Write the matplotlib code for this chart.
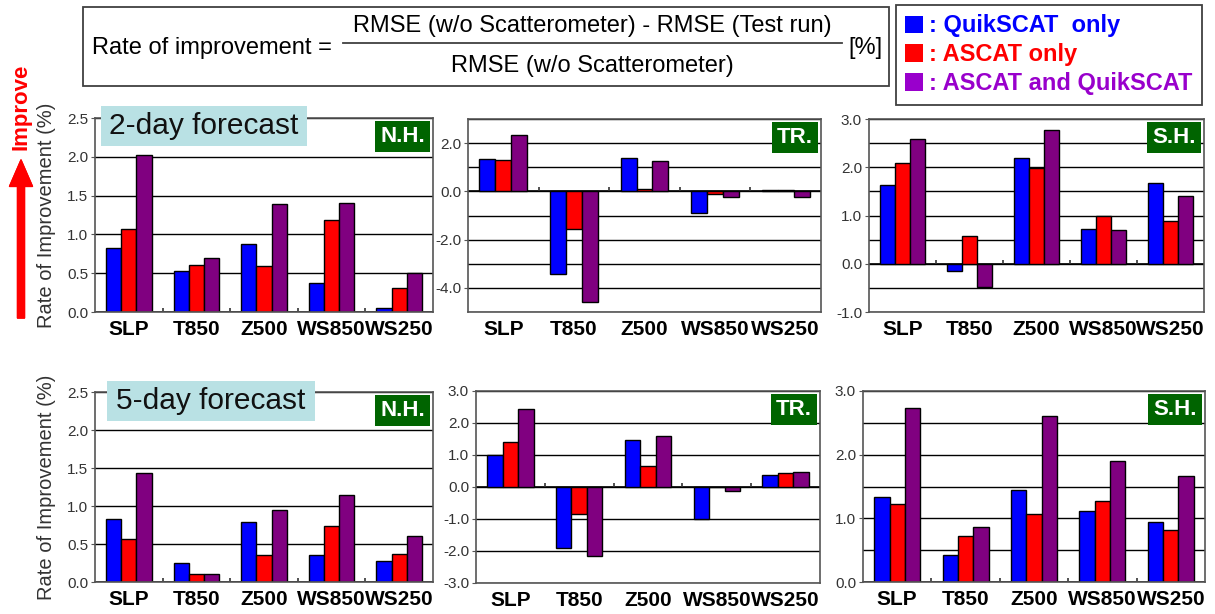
import numpy as np
import matplotlib
matplotlib.use("Agg")
import matplotlib.pyplot as plt
from matplotlib.patches import Rectangle, Patch
from matplotlib.lines import Line2D
from matplotlib.offsetbox import AnchoredText

plt.rcParams['font.family'] = ['Liberation Sans', 'DejaVu Sans']

W, H = 1215, 614

categories = ['SLP', 'T850', 'Z500', 'WS850', 'WS250']
series_names = [': QuikSCAT  only', ': ASCAT only', ': ASCAT and QuikSCAT']

# 2-day forecast
nh2_quik = [0.82, 0.53, 0.87, 0.37, 0.05]
nh2_ascat = [1.07, 0.61, 0.59, 1.18, 0.31]
nh2_both = [2.02, 0.69, 1.39, 1.41, 0.50]

tr2_quik = [1.35, -3.41, 1.40, -0.91, 0.04]
tr2_ascat = [1.30, -1.55, 0.09, -0.11, 0.04]
tr2_both = [2.33, -4.59, 1.24, -0.22, -0.22]

sh2_quik = [1.64, -0.14, 2.20, 0.73, 1.67]
sh2_ascat = [2.09, 0.58, 1.98, 0.99, 0.89]
sh2_both = [2.58, -0.49, 2.77, 0.70, 1.41]

# 5-day forecast
nh5_quik = [0.83, 0.25, 0.79, 0.35, 0.27]
nh5_ascat = [0.57, 0.11, 0.35, 0.74, 0.37]
nh5_both = [1.43, 0.10, 0.95, 1.15, 0.60]

tr5_quik = [1.00, -1.90, 1.46, -1.00, 0.38]
tr5_ascat = [1.41, -0.83, 0.66, 0.00, 0.43]
tr5_both = [2.43, -2.15, 1.60, -0.12, 0.46]

sh5_quik = [1.33, 0.43, 1.44, 1.11, 0.95]
sh5_ascat = [1.23, 0.73, 1.07, 1.28, 0.81]
sh5_both = [2.73, 0.87, 2.60, 1.90, 1.66]

bar_colors = ['#0000ff', '#ff0000', '#800080']
legend_colors = ['#0000ff', '#ff0000', '#9900cc']


def px_rect(x0, y0, x1, y1):
    # pixel box (top-left origin) -> figure fraction rect
    return [x0 / W, 1 - y1 / H, (x1 - x0) / W, (y1 - y0) / H]


# (rect, data, region, ylim, label ticks, grid step)
panels = [
    ((95, 118, 433, 312), (nh2_quik, nh2_ascat, nh2_both), 'N.H.', (0, 2.5), np.arange(0, 2.51, 0.5), 0.5),
    ((468, 119, 821, 312), (tr2_quik, tr2_ascat, tr2_both), 'TR.', (-5, 3), np.arange(-4, 2.1, 2), 1.0),
    ((869, 119, 1204, 312), (sh2_quik, sh2_ascat, sh2_both), 'S.H.', (-1, 3), np.arange(-1, 3.1, 1), 0.5),
    ((95, 392, 433, 582), (nh5_quik, nh5_ascat, nh5_both), 'N.H.', (0, 2.5), np.arange(0, 2.51, 0.5), 0.5),
    ((476, 391, 820, 583), (tr5_quik, tr5_ascat, tr5_both), 'TR.', (-3, 3), np.arange(-3, 3.1, 1), 1.0),
    ((863, 391, 1205, 582), (sh5_quik, sh5_ascat, sh5_both), 'S.H.', (0, 3), np.arange(0, 3.1, 1), 0.5),
]

fig = plt.figure(figsize=(W / 100, H / 100), dpi=100)

x = np.arange(len(categories))
bw = 0.225
for rect, data, region, ylim, yt, step in panels:
    ax = fig.add_axes(px_rect(*rect))
    for i, vals in enumerate(data):
        ax.bar(x + (i - 1) * bw, vals, bw, color=bar_colors[i],
               edgecolor='black', linewidth=1.0, zorder=3)
    ax.set_xlim(-0.5, len(categories) - 0.5)
    ax.set_ylim(*ylim)
    ax.set_yticks(yt)
    ax.set_yticklabels(['%.1f' % v for v in yt])
    ax.set_yticks(np.arange(ylim[0], ylim[1] + 1e-9, step), minor=True)
    ax.grid(which='both', axis='y', color='black', linewidth=1.0, zorder=0)
    ax.axhline(0, color='black', linewidth=1.2, zorder=2)
    # small group separators sitting on the zero line
    tick_h = 0.022 * (ylim[1] - ylim[0])
    ax.vlines(np.arange(0.5, len(categories) - 0.5), 0, tick_h,
              color='#333333', linewidth=1.2, zorder=2)
    ax.set_xticks(x)
    ax.set_xticklabels(categories, fontsize=15, fontweight='bold')
    ax.tick_params(axis='x', length=0, pad=6)
    ax.tick_params(axis='y', which='major', length=3, labelsize=11,
                   labelcolor='#333333', color='#555555', pad=2)
    ax.tick_params(axis='y', which='minor', length=0)
    for sp in ax.spines.values():
        sp.set_color('#555555')
        sp.set_linewidth(1.2)
        sp.set_zorder(4)
    at = AnchoredText(region, loc='upper right', frameon=True, pad=0.22, borderpad=0.15,
                      prop=dict(size=16, color='white', fontweight='bold'))
    at.patch.set_facecolor('#006400')
    at.patch.set_edgecolor('none')
    at.patch.set_boxstyle('square,pad=0')
    at.zorder = 5
    ax.add_artist(at)

# y labels
for yc in (215, 487):
    fig.text(47 / W, 1 - yc / H, 'Rate of Improvement (%)', rotation=90,
             ha='center', va='center', fontsize=14.5, color='#333333')

# forecast labels
for (x0, y0, x1, y1), txt in [((101, 106, 307, 146), '2-day forecast'),
                              ((107, 381, 315, 421), '5-day forecast')]:
    r = px_rect(x0, y0, x1, y1)
    fig.patches.append(Rectangle((r[0], r[1]), r[2], r[3], transform=fig.transFigure,
                                 facecolor='#b9e1e4', edgecolor='none', zorder=6))
    fig.text((x0 + x1) / 2 / W, 1 - (y0 + y1) / 2 / H, txt, ha='center', va='center',
             fontsize=21.5, color='#111111', zorder=7)

# formula box
r = px_rect(83, 7, 889, 86)
fig.patches.append(Rectangle((r[0], r[1]), r[2], r[3], transform=fig.transFigure,
                             facecolor='white', edgecolor='#404040', linewidth=1.3))
fig.text(92 / W, 1 - 48 / H, 'Rate of improvement =', ha='left', va='center', fontsize=17)
fig.text(592 / W, 1 - 26 / H, 'RMSE (w/o Scatterometer) - RMSE (Test run)',
         ha='center', va='center', fontsize=17)
fig.text(592 / W, 1 - 66 / H, 'RMSE (w/o Scatterometer)', ha='center', va='center', fontsize=17)
fig.add_artist(Line2D([343 / W, 842 / W], [1 - 43 / H, 1 - 43 / H], color='#404040', linewidth=1.3))
fig.text(848 / W, 1 - 48 / H, '[%]', ha='left', va='center', fontsize=17)

# legend
handles = [Patch(facecolor=c, edgecolor='none') for c in legend_colors]
leg = fig.legend(handles, series_names, loc='upper left', bbox_to_anchor=(896 / W, 1 - 5 / H),
                 frameon=True, fancybox=False, edgecolor='#404040', framealpha=1,
                 prop=dict(size=17, weight='bold'), handlelength=0.75, handleheight=0.75,
                 handletextpad=0.25, labelspacing=0.25, borderpad=0.4, borderaxespad=0)
leg.get_frame().set_linewidth(1.3)
for t, c in zip(leg.get_texts(), legend_colors):
    t.set_color(c)

# "Improve" arrow
fig.text(21 / W, 1 - 107 / H, 'Improve', rotation=90, ha='center', va='center',
         fontsize=16, fontweight='bold', color='#ff0000')
fig.add_artist(plt.annotate('', xy=(21 / W, 1 - 160 / H), xytext=(21 / W, 1 - 318 / H),
                            xycoords='figure fraction', textcoords='figure fraction',
                            arrowprops=dict(arrowstyle='simple,head_length=1.9,head_width=1.65,tail_width=0.5',
                                            mutation_scale=10, color='#ff0000', shrinkA=0, shrinkB=0)))

fig.savefig('out.png', dpi=100, facecolor='white')
